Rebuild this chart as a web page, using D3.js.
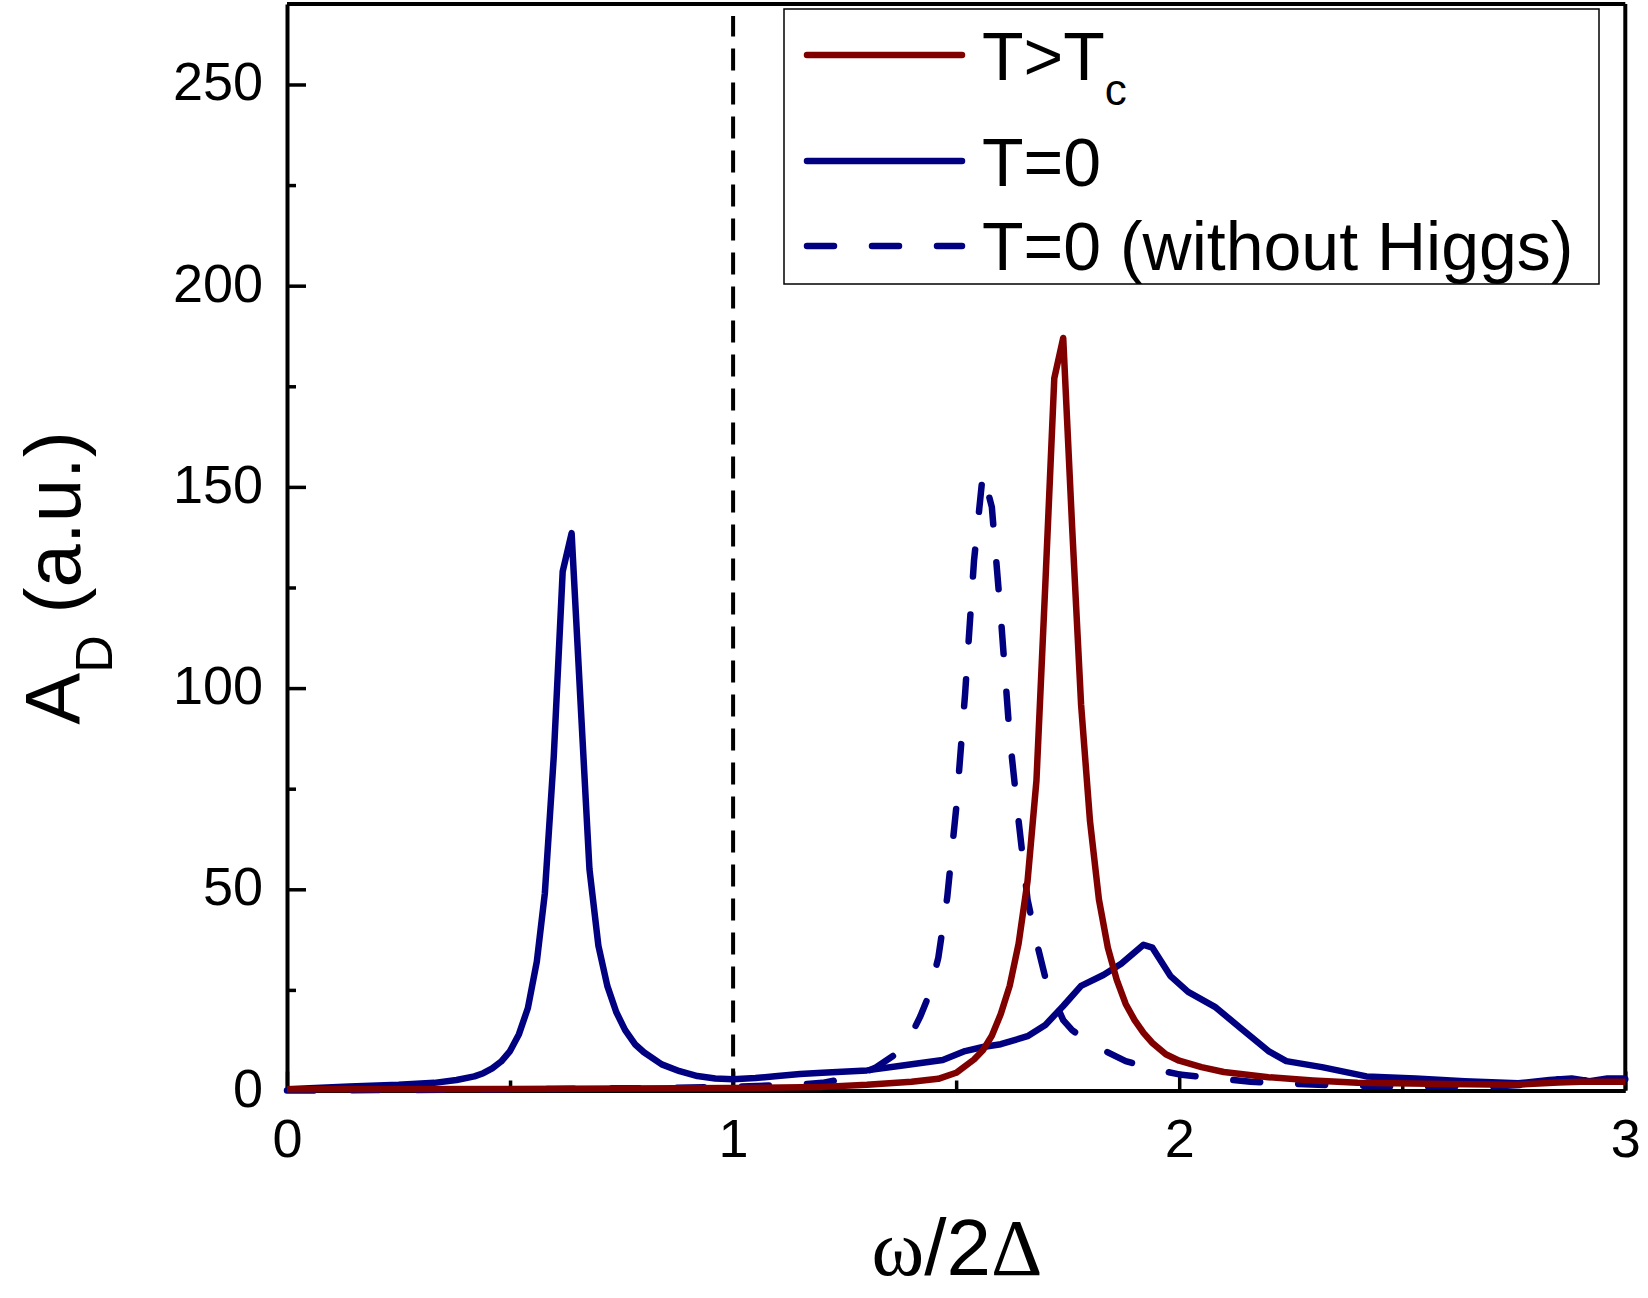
<!DOCTYPE html>
<html>
<head>
<meta charset="utf-8">
<script src="https://cdn.jsdelivr.net/npm/d3@7"></script>
<style>
  body { margin: 0; background: #fff; }
  text { font-family: "Liberation Sans", Arial, Helvetica, sans-serif; fill: #000; }
</style>
</head>
<body>
<div id="chart"></div>
<script>
// T > Tc (wine)
var xAboveTc = [0, 0.5, 1.0, 1.2, 1.3, 1.4, 1.46, 1.5, 1.54, 1.56, 1.58, 1.6, 1.62, 1.64, 1.66, 1.68, 1.70, 1.72, 1.74,
  1.76, 1.78, 1.80, 1.82, 1.84, 1.86, 1.88, 1.90, 1.92, 1.94, 1.97, 2.0, 2.05, 2.1, 2.2, 2.3, 2.4, 2.6, 2.75, 2.85, 2.9, 3.0];
var yAboveTc = [0.3, 0.4, 0.6, 0.9, 1.4, 2.2, 2.9, 4.4, 7.7, 10, 13.6, 19, 26, 36.5, 52, 77, 126, 177, 187,
  140, 96, 67, 47.5, 35.5, 27.5, 21.5, 17.5, 14.3, 11.8, 9, 7.4, 5.8, 4.6, 3.3, 2.5, 1.9, 1.6, 1.4, 2.0, 2.2, 2.2];

// T = 0 (navy, solid)
var xT0 = [0, 0.14, 0.25, 0.33, 0.38, 0.42, 0.44, 0.46, 0.48, 0.50, 0.52, 0.54, 0.56, 0.578, 0.598, 0.618, 0.638,
  0.658, 0.678, 0.698, 0.718, 0.738, 0.758, 0.78, 0.80, 0.84, 0.88, 0.92, 0.96, 1.0, 1.05, 1.1, 1.15, 1.2, 1.3,
  1.38, 1.47, 1.52, 1.56, 1.6, 1.66, 1.70, 1.74, 1.78, 1.83, 1.87, 1.92, 1.94, 1.98, 2.02, 2.08, 2.14, 2.2, 2.24,
  2.32, 2.42, 2.53, 2.64, 2.76, 2.83, 2.88, 2.92, 2.96, 3.0];
var yT0 = [0.3, 1.0, 1.4, 1.9, 2.6, 3.5, 4.3, 5.5, 7.2, 9.8, 14, 20.5, 32, 49, 83, 129, 138.5,
  96.5, 55, 36, 26, 19.5, 15, 11.5, 9.5, 6.5, 4.8, 3.6, 3.0, 2.8, 3.1, 3.6, 4.1, 4.4, 5.0,
  6.2, 7.6, 9.8, 10.8, 11.5, 13.5, 16.3, 21, 26, 28.7, 31.5, 36.2, 35.5, 28.5, 24.5, 20.8, 15.3, 9.8, 7.3,
  5.8, 3.5, 3.0, 2.3, 1.8, 2.6, 3.0, 2.3, 3.0, 3.0];

// T = 0 without Higgs (navy, dashed)
var xNoHiggs = [0, 0.2, 0.4, 0.6, 0.8, 1.0, 1.1, 1.16, 1.2, 1.24, 1.28, 1.32, 1.36, 1.38, 1.40, 1.42, 1.44, 1.46,
  1.48, 1.50, 1.52, 1.54, 1.56, 1.58, 1.60, 1.62, 1.64, 1.66, 1.68, 1.70, 1.72, 1.74, 1.76, 1.80, 1.84, 1.88,
  1.92, 1.96, 2.0, 2.05, 2.1, 2.16, 2.25, 2.35, 2.5, 2.7, 2.8, 2.85, 2.9, 3.0];
var yNoHiggs = [0, 0.1, 0.2, 0.4, 0.6, 0.9, 1.3, 1.6, 1.9, 2.7, 3.8, 5.7, 8.7, 11, 14, 18.5, 24, 33,
  48, 70, 98.5, 131.6, 153.5, 145, 118, 88, 67, 47.5, 37, 28, 22.5, 17.5, 15, 11.8, 9.5, 7.3,
  6, 4.9, 4.0, 3.4, 2.8, 2.2, 1.7, 1.3, 1.0, 1.0, 1.6, 2.8, 2.5, 2.8];

var xTicks = [0, 1, 2, 3];
var xMinorTicks = [0.5, 1.5, 2.5];
var yTicks = [0, 50, 100, 150, 200, 250];
var yMinorTicks = [25, 75, 125, 175, 225];
var gapLine = 1; // omega / 2Delta = 1

var svgWidth = 1648;
var svgHeight = 1298;

var margin = { top: 4, right: 22.7, bottom: 207.5, left: 287 };
var width = svgWidth - margin.left - margin.right;
var height = svgHeight - margin.top - margin.bottom;

var wine = "#800000";
var navy = "#000080";
var curveWidth = 6.5;

var svg = d3.select("#chart")
  .append("svg")
  .attr("width", svgWidth)
  .attr("height", svgHeight);

var chartGroup = svg.append("g")
  .attr("transform", `translate(${margin.left}, ${margin.top})`);

var xLinearScale = d3.scaleLinear().domain([0, 3]).range([0, width]);
var yLinearScale = d3.scaleLinear().domain([0, 270]).range([height, 0]);

// frame: top and right lines
chartGroup.append("line")
  .attr("x1", 0).attr("x2", width).attr("y1", 0).attr("y2", 0)
  .attr("stroke", "#000").attr("stroke-width", 4);
chartGroup.append("line")
  .attr("x1", width).attr("x2", width).attr("y1", 0).attr("y2", height)
  .attr("stroke", "#000").attr("stroke-width", 4);

// bottom axis (ticks inward)
var bottomAxis = d3.axisBottom(xLinearScale)
  .tickValues(xTicks)
  .tickSizeInner(-19)
  .tickSizeOuter(0)
  .tickFormat(d3.format("d"));

var xAxis = chartGroup.append("g")
  .attr("transform", `translate(0, ${height})`)
  .call(bottomAxis);

xAxis.selectAll("text")
  .attr("y", 66)
  .attr("dy", 0)
  .style("font-size", "54px")
  .style("font-family", "'Liberation Sans', Arial, sans-serif")
  .attr("fill", "#000");

chartGroup.append("g")
  .attr("transform", `translate(0, ${height})`)
  .call(d3.axisBottom(xLinearScale).tickValues(xMinorTicks).tickSizeInner(-10).tickSizeOuter(0).tickFormat(""))
  .select(".domain").remove();

// left axis (ticks inward)
var leftAxis = d3.axisLeft(yLinearScale)
  .tickValues(yTicks)
  .tickSizeInner(-19)
  .tickSizeOuter(0)
  .tickFormat(d3.format("d"));

var yAxis = chartGroup.append("g").call(leftAxis);

yAxis.selectAll("text")
  .attr("x", -24)
  .attr("dy", 0)
  .attr("y", 15.5)
  .style("font-size", "54px")
  .style("font-family", "'Liberation Sans', Arial, sans-serif")
  .attr("fill", "#000");

chartGroup.append("g")
  .call(d3.axisLeft(yLinearScale).tickValues(yMinorTicks).tickSizeInner(-9).tickSizeOuter(0).tickFormat(""))
  .select(".domain").remove();

chartGroup.selectAll(".domain").attr("stroke-width", 4).attr("stroke", "#000");
chartGroup.selectAll(".tick line").attr("stroke-width", 3.5).attr("stroke", "#000");

// vertical dashed line at omega/2Delta = 1
chartGroup.append("line")
  .attr("x1", xLinearScale(gapLine)).attr("x2", xLinearScale(gapLine))
  .attr("y1", yLinearScale(0)).attr("y2", yLinearScale(267))
  .attr("stroke", "#000")
  .attr("stroke-width", 4)
  .attr("stroke-dasharray", "22,12");

// curves
function makeLine(xs, ys) {
  return d3.line()
    .x((d, i) => xLinearScale(xs[i]))
    .y((d, i) => yLinearScale(ys[i]))(xs);
}

chartGroup.append("path")
  .attr("d", makeLine(xNoHiggs, yNoHiggs))
  .attr("fill", "none")
  .attr("stroke", navy)
  .attr("stroke-width", curveWidth)
  .attr("stroke-linecap", "round")
  .attr("stroke-linejoin", "round")
  .attr("stroke-dasharray", "27,38");

chartGroup.append("path")
  .attr("d", makeLine(xT0, yT0))
  .attr("fill", "none")
  .attr("stroke", navy)
  .attr("stroke-width", curveWidth)
  .attr("stroke-linejoin", "round");

chartGroup.append("path")
  .attr("d", makeLine(xAboveTc, yAboveTc))
  .attr("fill", "none")
  .attr("stroke", wine)
  .attr("stroke-width", curveWidth)
  .attr("stroke-linejoin", "round");

// legend
var legend = svg.append("g");
legend.append("rect")
  .attr("x", 784).attr("y", 9)
  .attr("width", 815).attr("height", 275)
  .attr("fill", "#fff")
  .attr("stroke", "#000")
  .attr("stroke-width", 1.5);

var legendRows = [
  { y: 55, color: wine, dash: null },
  { y: 161, color: navy, dash: null },
  { y: 246, color: navy, dash: "27,38" }
];

legendRows.forEach(function(r) {
  legend.append("line")
    .attr("x1", 807).attr("x2", 962)
    .attr("y1", r.y).attr("y2", r.y)
    .attr("stroke", r.color)
    .attr("stroke-width", curveWidth)
    .attr("stroke-linecap", "round")
    .attr("stroke-dasharray", r.dash);
});

var t1 = legend.append("text").attr("x", 982).attr("y", 80).style("font-size", "68px");
t1.append("tspan").text("T>T");
t1.append("tspan").attr("dy", 25).style("font-size", "44px").text("c");

legend.append("text").attr("x", 982).attr("y", 186).style("font-size", "68px").text("T=0");
legend.append("text").attr("x", 982).attr("y", 270).style("font-size", "68px").text("T=0 (without Higgs)");

// axis titles
var xTitle = svg.append("text")
  .attr("x", 957)
  .attr("y", 1275)
  .attr("text-anchor", "middle")
  .style("font-size", "80px");
xTitle.append("tspan").style("font-family", "'Liberation Serif', 'Times New Roman', serif").text("ω");
xTitle.append("tspan").text("/2");
xTitle.append("tspan").style("font-family", "'Liberation Serif', 'Times New Roman', serif").text("Δ");

var yTitle = svg.append("text")
  .attr("transform", "translate(80, 578) rotate(-90)")
  .attr("text-anchor", "middle")
  .style("font-size", "78px");
yTitle.append("tspan").text("A");
yTitle.append("tspan").attr("dy", 32).style("font-size", "52px").text("D");
yTitle.append("tspan").attr("dy", -32).text(" (a.u.)");
</script>
</body>
</html>
